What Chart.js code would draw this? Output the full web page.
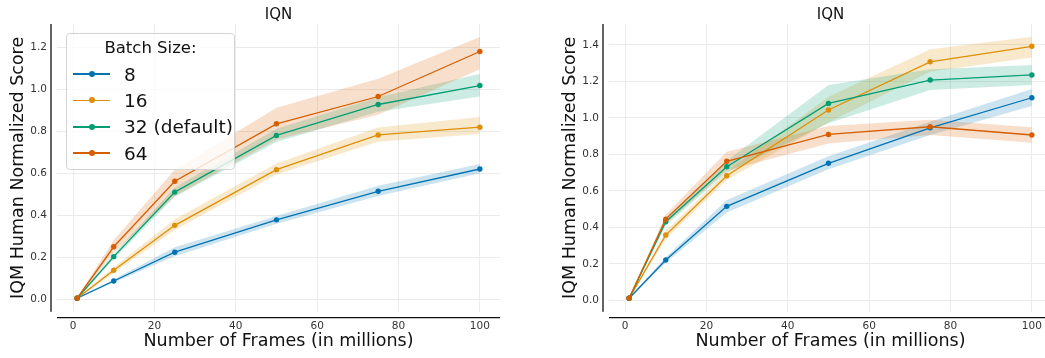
<!DOCTYPE html>
<html>
<head>
<meta charset="utf-8">
<script src="https://cdn.jsdelivr.net/npm/chart.js@4.4.1/dist/chart.umd.min.js"></script>
<style>
  html, body { margin: 0; padding: 0; background: #fff; overflow: hidden; }
  body { width: 1045px; height: 358px; position: relative; font-family: "DejaVu Sans", sans-serif; }
  canvas { position: absolute; top: 0; }
  #leftChart { left: 0; }
  #rightChart { left: 552px; }
  #legend {
    position: absolute; left: 66px; top: 33px; width: 167px;
    background: rgba(255,255,255,0.8); border: 1px solid #d4d4d4; border-radius: 4px;
    padding: 4px 0 3px 0; color: #111;
  }
  #legend .title { font-size: 16.5px; line-height: 20px; text-align: center; margin-bottom: 3px; }
  #legend .row { height: 26.3px; display: flex; align-items: center; font-size: 18.5px; }
  #legend .sym { position: relative; width: 37px; height: 1.6px; margin: 0 14px 0 6px; }
  #legend .sym i { position: absolute; left: 15.5px; top: -2.2px; width: 6px; height: 6px; border-radius: 50%; }
</style>
</head>
<body>
<canvas id="leftChart" width="522" height="358"></canvas>
<canvas id="rightChart" width="522" height="358"></canvas>
<div id="legend"><div class="title">Batch Size:</div></div>
<script>
const frames = [1, 10, 25, 50, 75, 100];
const batchSizes = ['8', '16', '32 (default)', '64'];
const colors = ['#0173b2', '#de8f05', '#029e73', '#d55e00'];
const xTicks = [0, 20, 40, 60, 80, 100];
const yTicksLeft = [0, 0.2, 0.4, 0.6, 0.8, 1.0, 1.2];
const yTicksRight = [0, 0.2, 0.4, 0.6, 0.8, 1.0, 1.2, 1.4];

// left panel: IQM and confidence bounds per batch size
const left8 = [0.005, 0.087, 0.224, 0.378, 0.514, 0.620];
const left8Lo = [0.002, 0.080, 0.205, 0.360, 0.492, 0.600];
const left8Hi = [0.008, 0.095, 0.248, 0.396, 0.540, 0.644];
const left16 = [0.005, 0.138, 0.352, 0.617, 0.782, 0.819];
const left16Lo = [0.002, 0.125, 0.330, 0.594, 0.750, 0.787];
const left16Hi = [0.008, 0.152, 0.381, 0.646, 0.817, 0.867];
const left32 = [0.005, 0.203, 0.510, 0.780, 0.927, 1.017];
const left32Lo = [0.002, 0.190, 0.488, 0.748, 0.893, 0.965];
const left32Hi = [0.008, 0.216, 0.532, 0.812, 0.962, 1.073];
const left64 = [0.005, 0.250, 0.562, 0.835, 0.965, 1.179];
const left64Lo = [0.003, 0.222, 0.490, 0.760, 0.878, 1.095];
const left64Hi = [0.009, 0.282, 0.616, 0.912, 1.049, 1.248];

// right panel
const right8 = [0.012, 0.221, 0.515, 0.751, 0.945, 1.110];
const right8Lo = [0.009, 0.206, 0.482, 0.718, 0.906, 1.065];
const right8Hi = [0.015, 0.236, 0.550, 0.790, 0.979, 1.158];
const right16 = [0.012, 0.358, 0.683, 1.043, 1.307, 1.392];
const right16Lo = [0.009, 0.335, 0.660, 0.975, 1.253, 1.331];
const right16Hi = [0.015, 0.380, 0.705, 1.115, 1.375, 1.444];
const right32 = [0.012, 0.431, 0.732, 1.079, 1.207, 1.235];
const right32Lo = [0.009, 0.410, 0.700, 0.970, 1.152, 1.180];
const right32Hi = [0.015, 0.452, 0.765, 1.180, 1.266, 1.289];
const right64 = [0.012, 0.445, 0.762, 0.909, 0.951, 0.906];
const right64Lo = [0.009, 0.420, 0.712, 0.860, 0.906, 0.864];
const right64Hi = [0.015, 0.470, 0.814, 0.955, 0.990, 0.948];

const family = '"DejaVu Sans", sans-serif';
Chart.defaults.font.family = family;
Chart.defaults.animation = false;

function withAlpha(hex, a) {
  const n = parseInt(hex.slice(1), 16);
  return `rgba(${n >> 16}, ${(n >> 8) & 255}, ${n & 255}, ${a})`;
}

function toPoints(values) {
  return values.map((v, j) => ({ x: frames[j], y: v }));
}

function buildDatasets(means, lows, highs) {
  const sets = [];
  means.forEach((m, i) => {
    sets.push({
      label: batchSizes[i], data: toPoints(m),
      borderColor: colors[i], backgroundColor: colors[i],
      borderWidth: 1.3, pointRadius: 2.7, pointBorderWidth: 0,
      fill: false, order: -i
    });
    sets.push({
      label: 'upper', data: toPoints(highs[i]),
      borderWidth: 0, pointRadius: 0, fill: false, order: 10 - i
    });
    sets.push({
      label: 'lower', data: toPoints(lows[i]),
      borderWidth: 0, pointRadius: 0, fill: '-1',
      backgroundColor: withAlpha(colors[i], 0.2), order: 10 - i
    });
  });
  return sets;
}

// spines sit a few pixels off the plot area
const offsetSpines = {
  id: 'offsetSpines',
  afterDraw(chart) {
    const { ctx, chartArea: a } = chart;
    ctx.save();
    ctx.strokeStyle = '#111';
    ctx.lineWidth = 1.3;
    ctx.beginPath();
    ctx.moveTo(a.left - 6, a.top);
    ctx.lineTo(a.left - 6, a.bottom);
    ctx.moveTo(a.left, a.bottom + 6);
    ctx.lineTo(a.right, a.bottom + 6);
    ctx.stroke();
    ctx.restore();
  }
};

function makeChart(id, datasets, yMin, yMax, yTicks) {
  return new Chart(document.getElementById(id), {
    type: 'line',
    data: { datasets: datasets },
    plugins: [offsetSpines],
    options: {
      responsive: false,
      devicePixelRatio: 1,
      layout: { padding: { left: 0, right: 22, top: 0, bottom: 0 } },
      plugins: {
        legend: { display: false },
        tooltip: { enabled: false },
        title: {
          display: true, text: 'IQN', color: '#111', fullSize: false,
          font: { size: 15, weight: 'normal' }, padding: { top: 6, bottom: 0 }
        }
      },
      scales: {
        x: {
          type: 'linear', min: -3.95, max: 104.95,
          afterBuildTicks: s => { s.ticks = xTicks.map(v => ({ value: v })); },
          afterFit: s => { s.height = 46.3; },
          grid: { color: '#ebebeb', lineWidth: 1, drawTicks: false },
          border: { display: false },
          ticks: { padding: 8, color: '#333', font: { size: 10.5 }, callback: v => String(v) },
          title: {
            display: true, text: 'Number of Frames (in millions)', color: '#111',
            font: { size: 17.5 }, padding: { top: 0, bottom: 6 }
          }
        },
        y: {
          type: 'linear', min: yMin, max: yMax,
          afterBuildTicks: s => { s.ticks = yTicks.map(v => ({ value: v })); },
          afterFit: s => { s.width = 57; },
          grid: { color: '#ebebeb', lineWidth: 1, drawTicks: false },
          border: { display: false },
          ticks: { padding: 10, color: '#333', font: { size: 10.5 }, callback: v => v.toFixed(1) },
          title: {
            display: true, text: 'IQM Human Normalized Score', color: '#111',
            font: { size: 17.5 }, padding: { top: 8, bottom: 0 }
          }
        }
      }
    }
  });
}

makeChart('leftChart',
  buildDatasets([left8, left16, left32, left64],
    [left8Lo, left16Lo, left32Lo, left64Lo],
    [left8Hi, left16Hi, left32Hi, left64Hi]),
  -0.059, 1.31, yTicksLeft);

makeChart('rightChart',
  buildDatasets([right8, right16, right32, right64],
    [right8Lo, right16Lo, right32Lo, right64Lo],
    [right8Hi, right16Hi, right32Hi, right64Hi]),
  -0.062, 1.514, yTicksRight);

// legend for the left panel
const legend = document.getElementById('legend');
batchSizes.forEach((name, i) => {
  const row = document.createElement('div');
  row.className = 'row';
  row.innerHTML = `<span class="sym" style="background:${colors[i]}"><i style="background:${colors[i]}"></i></span><span>${name}</span>`;
  legend.appendChild(row);
});
</script>
</body>
</html>
